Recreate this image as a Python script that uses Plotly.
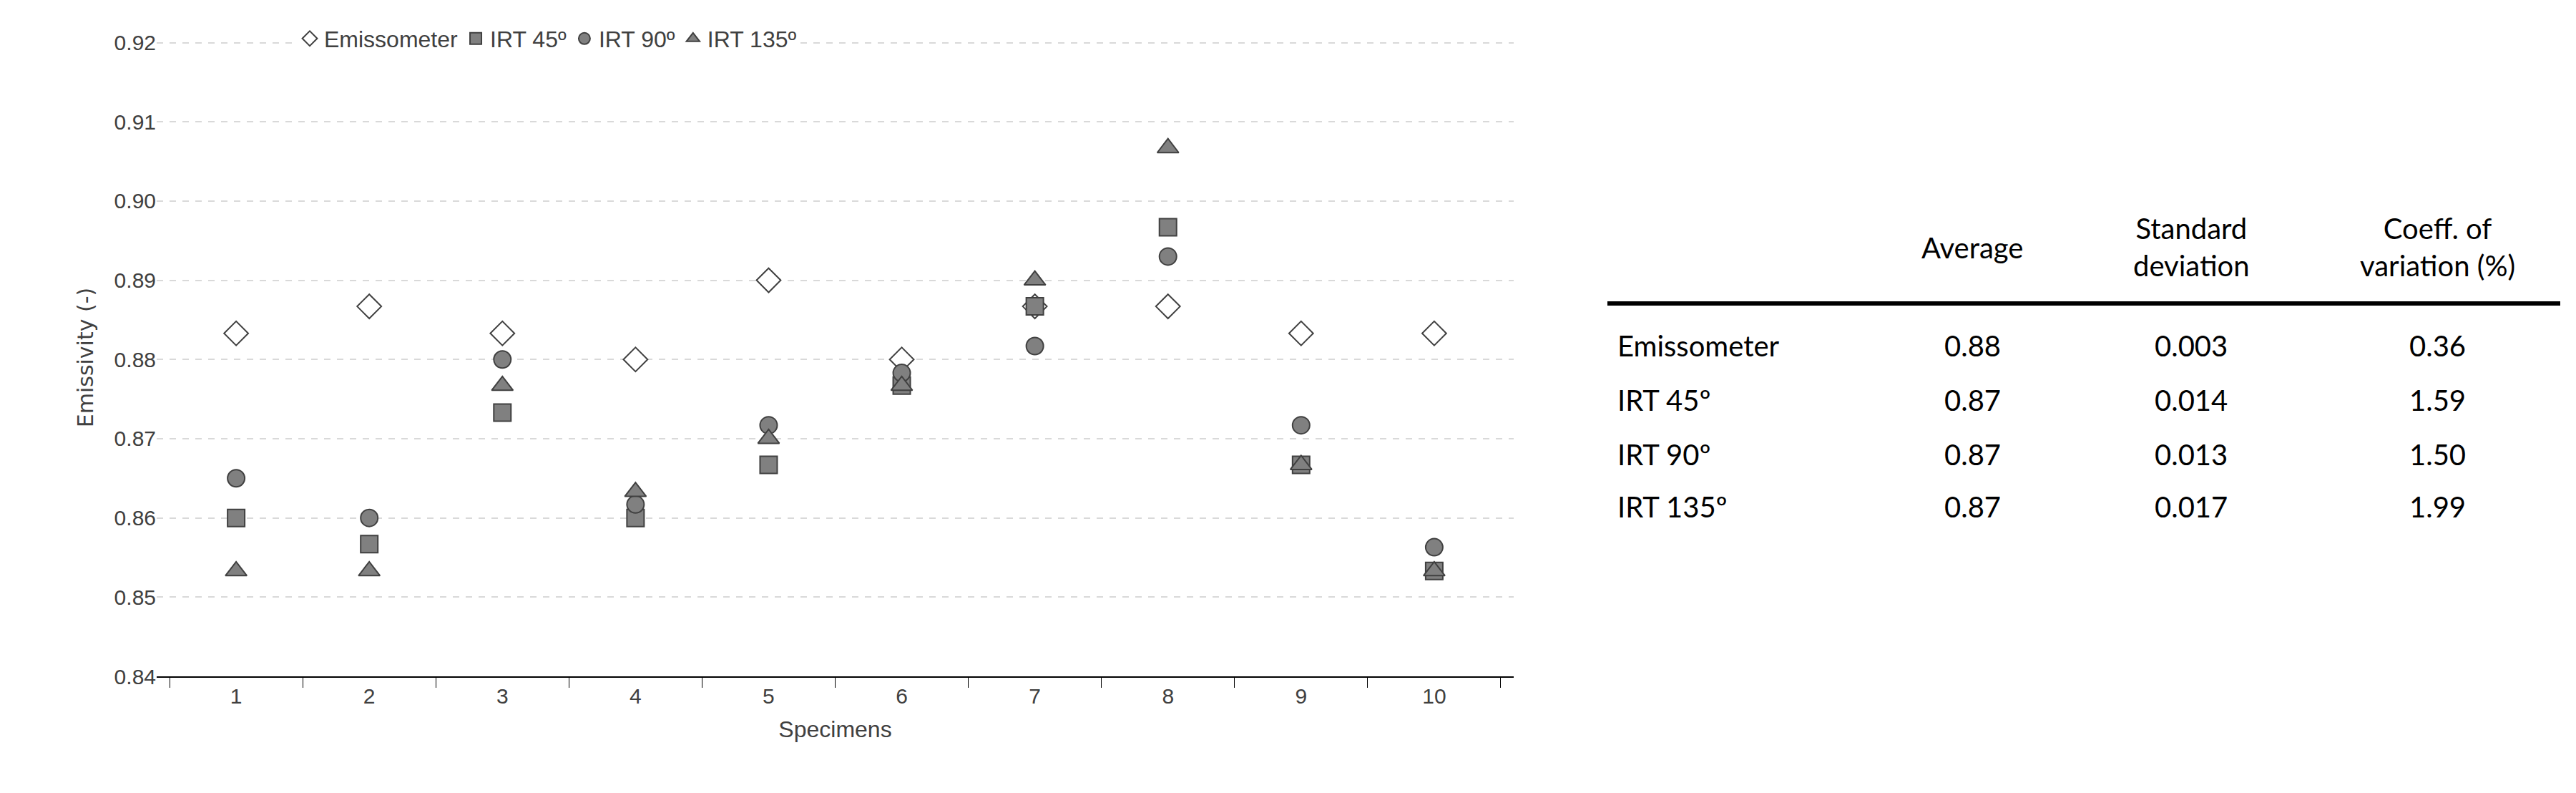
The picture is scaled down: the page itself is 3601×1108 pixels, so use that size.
import plotly.graph_objects as go

specimens = ["1","2","3","4","5","6","7","8","9","10"]
emissometer = [0.8833,0.8867,0.8833,0.8800,0.8900,0.8800,0.8867,0.8867,0.8833,0.8833]
irt45 = [0.8600,0.8567,0.8733,0.8600,0.8667,0.8767,0.8867,0.8967,0.8667,0.8533]
irt90 = [0.8650,0.8600,0.8800,0.8617,0.8717,0.8783,0.8817,0.8930,0.8717,0.8563]
irt135 = [0.8533,0.8533,0.8767,0.8633,0.8700,0.8767,0.8900,0.9067,0.8667,0.8533]

table_rows = ["Emissometer","IRT 45º","IRT 90º","IRT 135º"]
table_avg = ["0.88","0.87","0.87","0.87"]
table_sd = ["0.003","0.014","0.013","0.017"]
table_cv = ["0.36","1.59","1.50","1.99"]

W, H = 3601, 1108
L, R, T, B = 211, 2108, 46, 937

fig = go.Figure()
gray = "#808080"
fig.add_trace(go.Scatter(x=specimens, y=emissometer, mode="markers", name="Emissometer",
    marker=dict(symbol="diamond", size=26, color="white", line=dict(color="#404040", width=2))))
fig.add_trace(go.Scatter(x=specimens, y=irt45, mode="markers", name="IRT 45º",
    marker=dict(symbol="square", size=24, color=gray, line=dict(color="#404040", width=2))))
fig.add_trace(go.Scatter(x=specimens, y=irt90, mode="markers", name="IRT 90º",
    marker=dict(symbol="circle", size=24, color=gray, line=dict(color="#404040", width=2))))
fig.add_trace(go.Scatter(x=specimens, y=irt135, mode="markers", name="IRT 135º",
    marker=dict(symbol="triangle-up", size=26, color=gray, line=dict(color="#404040", width=2))))

font = "Liberation Sans Narrow, Arial Narrow, sans-serif"
fig.update_layout(
    width=W, height=H, plot_bgcolor="white", paper_bgcolor="white",
    margin=dict(l=L, r=W-R, t=T, b=H-B),
    font=dict(family=font, size=30, color="#404040"),
    legend=dict(orientation="h", x=(758-L)/(R-L), xanchor="center", y=1.0, yanchor="middle",
                bgcolor="white", font=dict(size=32, color="#404040"), itemwidth=30,
                tracegroupgap=0),
    xaxis=dict(type="category", tickson="boundaries", ticks="outside", ticklen=14,
               tickcolor="black", showline=True, linecolor="black", linewidth=2,
               showgrid=False, title=dict(text="Specimens", font=dict(size=32), standoff=20),
               tickfont=dict(size=30)),
    yaxis=dict(range=[0.84, 0.9205], dtick=0.01, tickformat=".2f", showline=False,
               gridcolor="#d9d9d9", griddash="dash", gridwidth=2, zeroline=False,
               title=dict(text="Emissivity (-)", font=dict(size=30, family="DejaVu Sans, sans-serif"), standoff=20),
               tickfont=dict(size=30)),
)

tf = "Lato, Open Sans, sans-serif"
def px(x): return (x - L) / (R - L)
def py(y): return (B - y) / (B - T)
def ann(text, x, y, xanchor="center"):
    fig.add_annotation(text=text, x=px(x), y=py(y), xref="paper", yref="paper",
                       xanchor=xanchor, yanchor="middle", showarrow=False,
                       font=dict(family=tf, size=40, color="black"))

ann("Average", 2749, 338)
ann("Standard<br>deviation", 3055, 337)
ann("Coeff. of<br>variation (%)", 3399, 337)
fig.add_shape(type="line", xref="paper", yref="paper", x0=px(2239), x1=px(3571),
              y0=py(416), y1=py(416), line=dict(color="black", width=6))
ys = [475, 551, 627, 700]
for i, y in enumerate(ys):
    ann(table_rows[i], 2251, y, "left")
    ann(table_avg[i], 2749, y)
    ann(table_sd[i], 3055, y)
    ann(table_cv[i], 3399, y)

fig.write_html("out.html")
